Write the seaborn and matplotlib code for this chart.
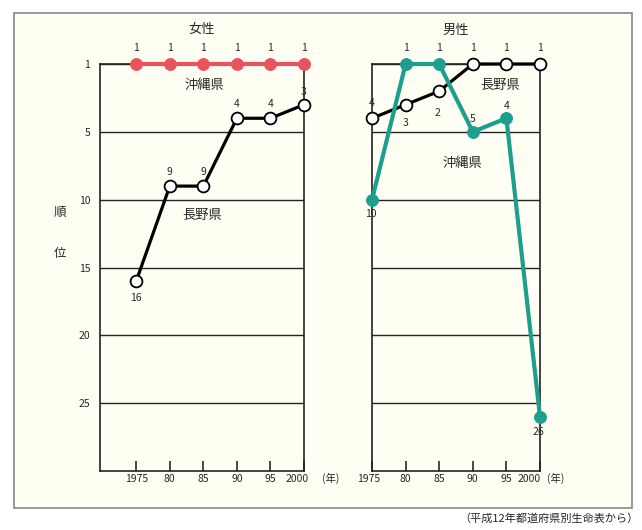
import numpy as np
import pandas as pd
import matplotlib
matplotlib.use('Agg')
import matplotlib.pyplot as plt
import matplotlib.patches as patches
from matplotlib.transforms import ScaledTranslation
import seaborn as sns

# Dados: ranking de expectativa de vida por província (1975-2000)
years = [1975, 1980, 1985, 1990, 1995, 2000]
year_labels = ['1975', '80', '85', '90', '95', '2000']
women_okinawa = [1, 1, 1, 1, 1, 1]
women_nagano = [16, 9, 9, 4, 4, 3]
men_nagano = [4, 3, 2, 1, 1, 1]
men_okinawa = [10, 1, 1, 5, 4, 26]
rank_ticks = [1, 5, 10, 15, 20, 25]

red = '#E8535E'
teal = '#1E9E8C'
bg = '#FFFFF4'

sns.set_style('white')
plt.rcParams['font.family'] = ['Noto Sans CJK JP', 'DejaVu Sans']

fig = plt.figure(figsize=(6.42, 5.30), dpi=100)
fig.patch.set_facecolor('white')
frame = patches.Rectangle((14 / 642, 1 - 508 / 530), 618 / 642, 495 / 530,
                          transform=fig.transFigure, facecolor=bg,
                          edgecolor='#888888', lw=1.2, zorder=-10)
fig.patches.append(frame)

ax_w = fig.add_axes([100 / 642, 1 - 471 / 530, 204 / 642, 407 / 530])
ax_m = fig.add_axes([372 / 642, 1 - 471 / 530, 168 / 642, 407 / 530])


# escala do eixo y: o 1o lugar fica na linha de cima
def fwd(r):
    r = np.asarray(r, dtype=float)
    return np.where(r < 2, 2 * (r - 1), r)


def inv(y):
    y = np.asarray(y, dtype=float)
    return np.where(y < 2, y / 2 + 1, y)


def draw_series(ax, vals, color, filled, offsets):
    df = pd.DataFrame({'year': years, 'rank': vals})
    if filled:
        sns.lineplot(x='year', y='rank', data=df, ax=ax, color=color, lw=3,
                     marker='o', markersize=8.5, markerfacecolor=color,
                     markeredgecolor=color, clip_on=False, zorder=4)
    else:
        sns.lineplot(x='year', y='rank', data=df, ax=ax, color='black', lw=2.3,
                     marker='o', markersize=8.5, markerfacecolor='white',
                     markeredgecolor='black', markeredgewidth=1.3,
                     clip_on=False, zorder=3)
    for x, v, (dx, dy) in zip(years, vals, offsets):
        ax.annotate(str(v), (x, v), textcoords='offset points',
                    xytext=(dx, dy), ha='center', va='center', fontsize=7.5,
                    annotation_clip=False, zorder=5)


up = (0, 11.5)
draw_series(ax_w, women_okinawa, red, True, [up] * 6)
draw_series(ax_w, women_nagano, 'black', False,
            [(0, -12), (0, 10), (0, 10), (0, 10), (0, 10), (0, 9.5)])
draw_series(ax_m, men_nagano, 'black', False,
            [(0, 11), (0, -13), (-1, -16), up, up, up])
draw_series(ax_m, men_okinawa, teal, True,
            [(-1, -10), up, up, (0, 9.5), (0, 9), (-1, -11)])

for ax, xl, shift in [(ax_w, 1969.6, (0, -7)), (ax_m, 1975, (-3, -11))]:
    ax.set_facecolor(bg)
    ax.set_yscale('function', functions=(fwd, inv))
    ax.set_ylim(30, 1)
    ax.set_xlim(xl, 2000)
    ax.set_yticks(rank_ticks)
    ax.grid(axis='y', color='#222222', lw=1)
    ax.set_axisbelow(True)
    ax.set_xticks(years)
    ax.set_xticklabels(year_labels, fontsize=7.5)
    ax.tick_params(axis='x', direction='in', length=7, width=1.2, pad=2,
                   bottom=True)
    ax.tick_params(axis='y', length=0)
    for s in ax.spines.values():
        s.set_visible(True)
        s.set_color('#222222')
        s.set_linewidth(1.2)
    ax.set_xlabel('')
    ax.set_ylabel('')
    # desloca os rótulos 1975 e 2000 como no original
    labs = ax.get_xticklabels()
    for lab, dx in [(labs[0], shift[0]), (labs[-1], shift[1])]:
        lab.set_transform(lab.get_transform() +
                          ScaledTranslation(dx / 100, 0, fig.dpi_scale_trans))

ax_w.set_yticklabels([str(t) for t in rank_ticks], fontsize=7.5)
ax_w.tick_params(axis='y', pad=7)
ax_m.set_yticklabels([])

ax_w.set_title('女性', fontsize=9.5, pad=22)
ax_m.set_title('男性', fontsize=9.5, pad=22)

ax_w.text(1985.2, 1.8, '沖縄県', fontsize=9.5, ha='center', va='center')
ax_w.text(1984.9, 11.2, '長野県', fontsize=9.5, ha='center', va='center')
ax_m.text(1994.0, 1.8, '長野県', fontsize=9.5, ha='center', va='center')
ax_m.text(1988.5, 7.35, '沖縄県', fontsize=9.5, ha='center', va='center')

fig.text(60 / 642, 1 - 212 / 530, '順', fontsize=9, ha='center', va='center')
fig.text(60 / 642, 1 - 253 / 530, '位', fontsize=9, ha='center', va='center')
fig.text(331 / 642, 1 - 478 / 530, '(年)', fontsize=7.5, ha='center', va='center')
fig.text(556 / 642, 1 - 478 / 530, '(年)', fontsize=7.5, ha='center', va='center')
fig.text(639 / 642, 1 - 519 / 530, '（平成12年都道府県別生命表から）',
         fontsize=8, ha='right', va='center')

fig.savefig('out.png', dpi=100, facecolor='white')
